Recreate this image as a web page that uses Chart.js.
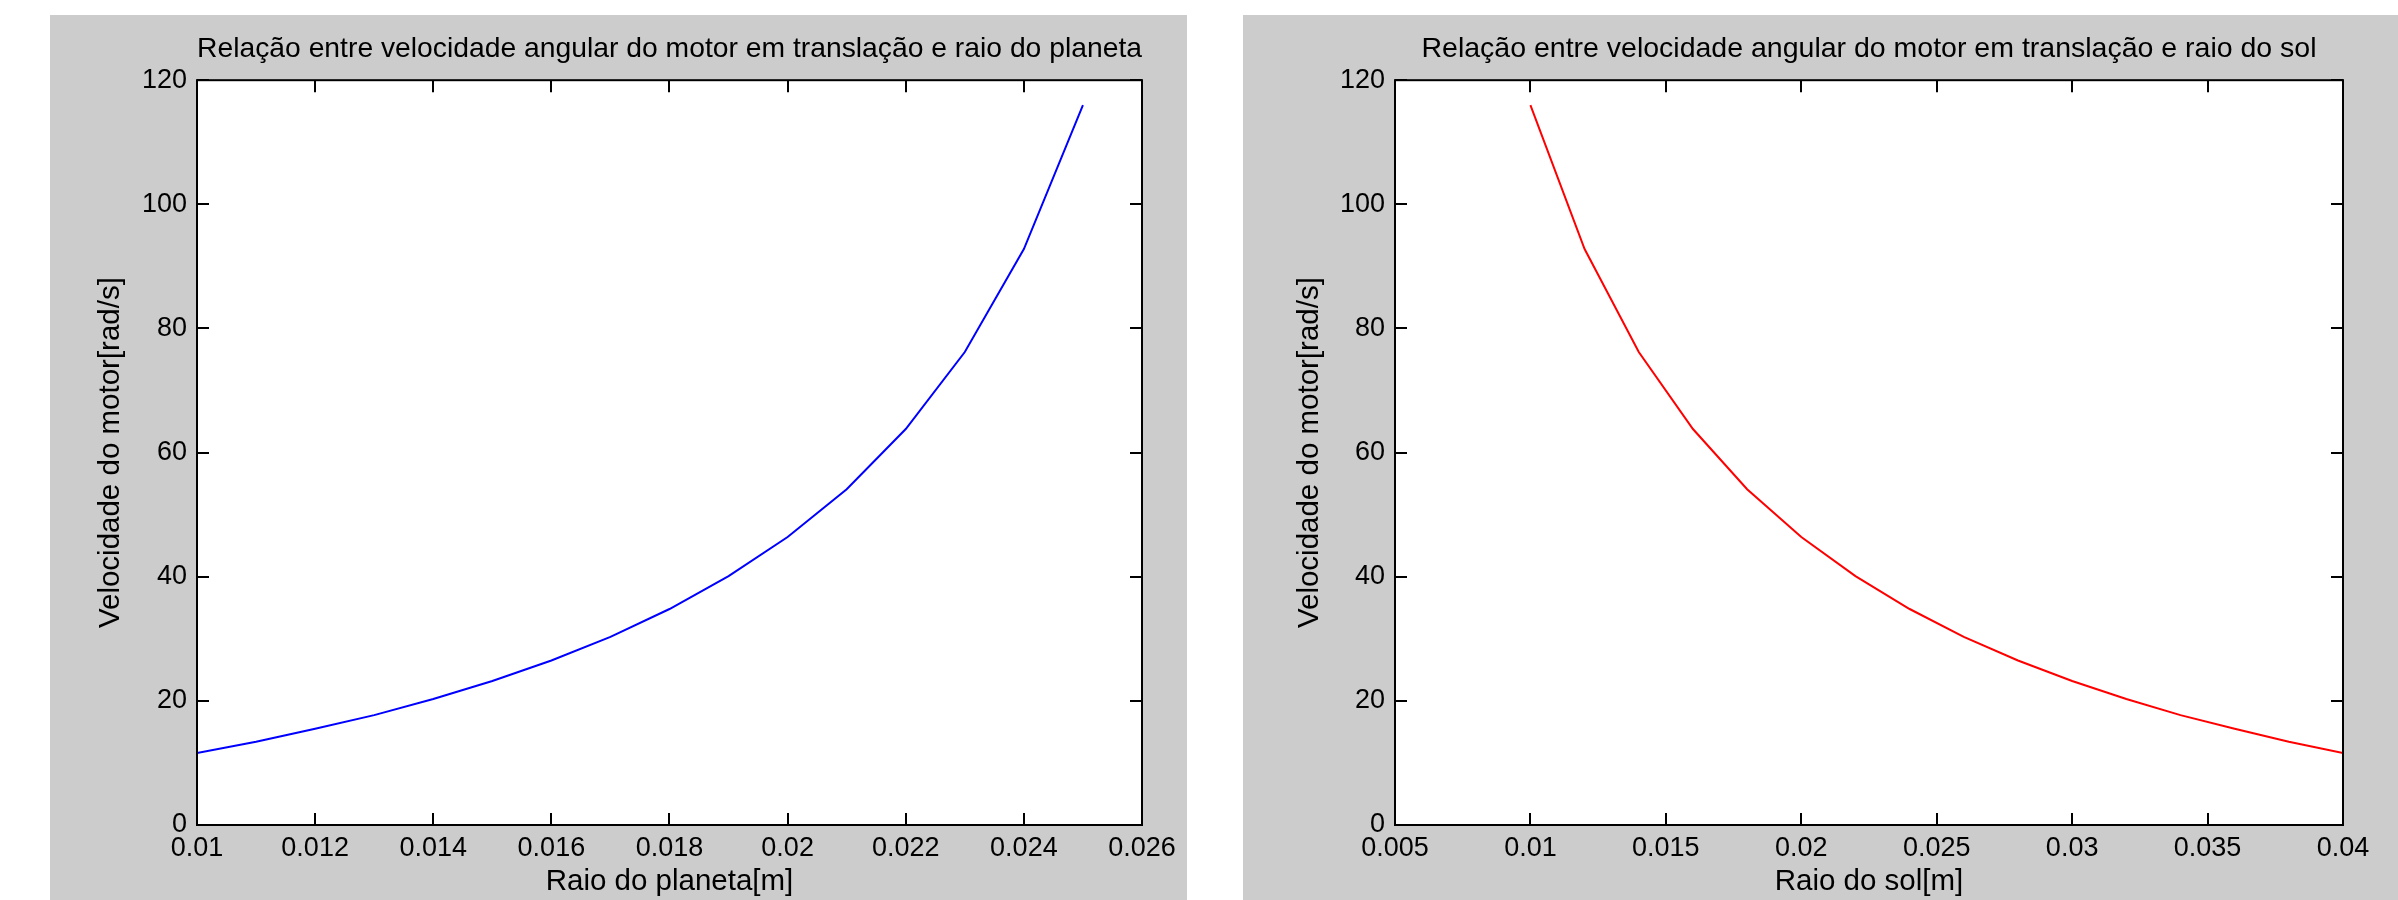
<!DOCTYPE html>
<html>
<head>
<meta charset="utf-8">
<script src="https://cdn.jsdelivr.net/npm/chart.js@4"></script>
<style>
  body { margin: 0; background: #ffffff; width: 2398px; height: 900px; overflow: hidden; position: relative; }
  .panel { position: absolute; background: #cccccc; }
  canvas { display: block; }
</style>
</head>
<body>
<div class="panel" style="left:50px; top:15px; width:1137px; height:885px;">
  <canvas id="planeta" width="1137" height="885"></canvas>
</div>
<div class="panel" style="left:1243px; top:15px; width:1155px; height:885px;">
  <canvas id="sol" width="1155" height="885"></canvas>
</div>
<script>
// planet radius [m] vs motor speed [rad/s]
const raioPlaneta = [0.010, 0.011, 0.012, 0.013, 0.014, 0.015, 0.016, 0.017,
                     0.018, 0.019, 0.020, 0.021, 0.022, 0.023, 0.024, 0.025];
const velPlaneta = [11.6, 13.4, 15.5, 17.7, 20.3, 23.2, 26.5, 30.3,
                    34.8, 40.1, 46.4, 54.1, 63.8, 76.2, 92.8, 116.0];

// sun radius [m] vs motor speed [rad/s]
const raioSol = [0.010, 0.012, 0.014, 0.016, 0.018, 0.020, 0.022, 0.024,
                 0.026, 0.028, 0.030, 0.032, 0.034, 0.036, 0.038, 0.040];
const velSol = [116.0, 92.8, 76.2, 63.8, 54.1, 46.4, 40.1, 34.8,
                30.3, 26.5, 23.2, 20.3, 17.7, 15.5, 13.4, 11.6];

const yTicks = [0, 20, 40, 60, 80, 100, 120];
const xTicksPlaneta = [0.01, 0.012, 0.014, 0.016, 0.018, 0.02, 0.022, 0.024, 0.026];
const xTicksSol = [0.005, 0.01, 0.015, 0.02, 0.025, 0.03, 0.035, 0.04];

const FONT = "'Liberation Sans', Arial, Helvetica, sans-serif";

// matlab style box with inward ticks on all four sides
const boxTicks = {
  id: 'boxTicks',
  afterDraw(chart) {
    const { ctx, chartArea: a, scales } = chart;
    const len = 12;
    ctx.save();
    ctx.strokeStyle = '#000';
    ctx.lineWidth = 2;
    ctx.beginPath();
    scales.x.ticks.forEach(t => {
      const px = Math.round(scales.x.getPixelForValue(t.value));
      ctx.moveTo(px, a.bottom); ctx.lineTo(px, a.bottom - len);
      ctx.moveTo(px, a.top); ctx.lineTo(px, a.top + len);
    });
    scales.y.ticks.forEach(t => {
      const py = Math.round(scales.y.getPixelForValue(t.value));
      ctx.moveTo(a.left, py); ctx.lineTo(a.left + len, py);
      ctx.moveTo(a.right, py); ctx.lineTo(a.right - len, py);
    });
    ctx.stroke();
    ctx.strokeRect(a.left, a.top, a.right - a.left, a.bottom - a.top);
    ctx.restore();
  }
};

// white plot background
const whiteArea = {
  id: 'whiteArea',
  beforeDraw(chart) {
    const { ctx, chartArea: a } = chart;
    ctx.save();
    ctx.fillStyle = '#ffffff';
    ctx.fillRect(a.left, a.top, a.right - a.left, a.bottom - a.top);
    ctx.restore();
  }
};

function makeChart(id, xs, ys, color, xTicks, title, xTitle, yAxisLeft, rightPad, yTitlePad) {
  const ctx = document.getElementById(id).getContext('2d');
  return new Chart(ctx, {
    type: 'line',
    data: {
      datasets: [{
        data: xs.map((x, i) => ({ x: x, y: ys[i] })),
        borderColor: color,
        borderWidth: 2,
        pointRadius: 0,
        tension: 0,
        fill: false
      }]
    },
    options: {
      responsive: false,
      animation: false,
      layout: { padding: { left: 0, right: rightPad, top: 0, bottom: 0 } },
      plugins: {
        legend: { display: false },
        tooltip: { enabled: false },
        title: {
          display: true,
          text: title,
          fullSize: false,
          color: '#000',
          font: { family: FONT, size: 28.5, weight: 'normal' },
          padding: { top: 17, bottom: 14 }
        }
      },
      scales: {
        x: {
          type: 'linear',
          min: xTicks[0],
          max: xTicks[xTicks.length - 1],
          afterBuildTicks: (s) => { s.ticks = xTicks.map(v => ({ value: v })); },
          afterFit: (s) => { s.height = 75; },
          grid: { display: false, drawTicks: false },
          border: { display: false },
          ticks: {
            color: '#000',
            font: { family: FONT, size: 27 },
            padding: 7,
            maxRotation: 0,
            autoSkip: false,
            callback: (v) => String(parseFloat(Number(v).toFixed(4)))
          },
          title: {
            display: true,
            text: xTitle,
            color: '#000',
            font: { family: FONT, size: 29.5 },
            padding: { top: 0, bottom: 0 }
          }
        },
        y: {
          type: 'linear',
          min: 0,
          max: 120,
          afterBuildTicks: (s) => { s.ticks = yTicks.map(v => ({ value: v })); },
          afterFit: (s) => { s.width = yAxisLeft; },
          grid: { display: false, drawTicks: false },
          border: { display: false },
          ticks: {
            color: '#000',
            font: { family: FONT, size: 27 },
            padding: 10
          },
          title: {
            display: true,
            text: 'Velocidade do motor[rad/s]',
            color: '#000',
            font: { family: FONT, size: 29.5 },
            padding: { top: yTitlePad, bottom: 0 }
          }
        }
      }
    },
    plugins: [whiteArea, boxTicks]
  });
}

makeChart('planeta', raioPlaneta, velPlaneta, '#0000ff', xTicksPlaneta,
  'Relação entre velocidade angular do motor em translação e raio do planeta',
  'Raio do planeta[m]', 147, 45, 43);

makeChart('sol', raioSol, velSol, '#ff0000', xTicksSol,
  'Relação entre velocidade angular do motor em translação e raio do sol',
  'Raio do sol[m]', 152, 55, 49);
</script>
</body>
</html>
